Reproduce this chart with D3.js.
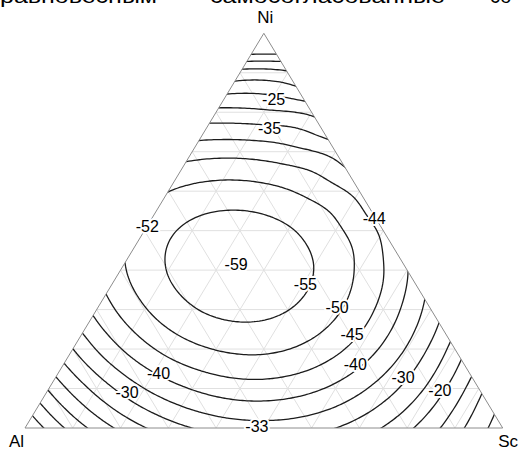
<!DOCTYPE html>
<html>
<head>
<meta charset="utf-8">
<title>Al-Ni-Sc ternary contours</title>
<script src="https://d3js.org/d3.v7.min.js"></script>
<style>
  body { margin: 0; background: #fff; }
  text { font-family: Arial, "Liberation Sans", sans-serif; }
</style>
</head>
<body>
<script>
// values at the 10 % composition nodes, one row per Ni fraction,
// each row runs from x(Sc) = 0 upward
var ni00  = [0.0, -11.9, -21.1, -27.7, -31.7, -33.0, -31.7, -27.7, -21.1, -11.9, 0.0];
var ni10  = [-15.6, -26.7, -35.0, -40.3, -42.8, -42.3, -38.9, -32.6, -23.5, -11.4];
var ni20  = [-29.9, -39.8, -46.6, -50.2, -50.9, -48.5, -43.0, -34.5, -22.9];
var ni30  = [-41.5, -49.6, -54.6, -56.4, -55.1, -50.8, -43.4, -32.9];
var ni40  = [-49.1, -55.2, -58.2, -58.2, -55.2, -49.2, -40.2];
var ni50  = [-52.0, -56.0, -57.2, -55.5, -51.0, -43.8];
var ni60  = [-49.9, -52.0, -51.5, -48.5, -43.1];
var ni70  = [-42.8, -43.3, -41.7, -38.0];
var ni80  = [-31.5, -30.9, -28.8];
var ni90  = [-16.7, -15.8];
var ni100 = [0.0];

var levels = [-55, -50, -45, -40, -35, -30, -25, -20, -15, -10, -5];
var vertexNames = ["Al", "Ni", "Sc"];

// value labels and the compositions they sit on
var labelText = ["-25", "-35", "-52", "-44", "-59", "-55", "-50", "-45", "-40", "-30", "-20", "-40", "-30", "-33"];
var labelNi   = [0.833, 0.760, 0.512, 0.530, 0.414, 0.364, 0.305, 0.237, 0.161, 0.127, 0.095, 0.139, 0.089, 0.003];
var labelSc   = [0.104, 0.132, 0.000, 0.466, 0.235, 0.405, 0.501, 0.566, 0.611, 0.728, 0.821, 0.210, 0.169, 0.484];

var headerWords = ["равновесным", "самосогласованные", "со"];

var rows = [ni00, ni10, ni20, ni30, ni40, ni50, ni60, ni70, ni80, ni90, ni100];

var width = 520, height = 450;

// ternary -> screen: horizontal position from x(Sc) + x(Ni)/2, vertical from x(Ni)
var x = d3.scaleLinear().domain([0, 1]).range([25, 502.7]);
var y = d3.scaleLinear().domain([0, 1]).range([428, 33.3]);
function pt(n, s) { return [x(s + n / 2), y(n)]; }

var svg = d3.select("body").append("svg")
    .attr("width", width)
    .attr("height", height);

var tri = [pt(0, 0), pt(0, 1), pt(1, 0)];

svg.append("clipPath").attr("id", "tri")
  .append("path")
    .attr("d", "M" + tri.join("L") + "Z");

// light composition grid
var grid = svg.append("g")
    .attr("stroke", "#e0e0e0")
    .attr("stroke-width", 1)
    .attr("fill", "none");
d3.range(1, 10).forEach(function(k) {
    var f = k / 10;
    [[pt(f, 0), pt(f, 1 - f)],
     [pt(0, f), pt(1 - f, f)],
     [pt(0, 1 - f), pt(1 - f, 0)]].forEach(function(seg) {
        grid.append("line")
            .attr("x1", seg[0][0]).attr("y1", seg[0][1])
            .attr("x2", seg[1][0]).attr("y2", seg[1][1]);
    });
});

// node lookup, stepping outside the triangle by quadratic extrapolation
var memo = new Map();
function node(i, j) {
    var key = i + "," + j;
    if (memo.has(key)) return memo.get(key);
    var v;
    if (i >= 0 && j >= 0 && i + j <= 10) v = rows[j][i];
    else if (i < 0) v = 3 * node(i + 1, j) - 3 * node(i + 2, j) + node(i + 3, j);
    else if (j < 0) v = 3 * node(i, j + 1) - 3 * node(i, j + 2) + node(i, j + 3);
    else v = 3 * node(i - 1, j - 1) - 3 * node(i - 2, j - 2) + node(i - 3, j - 3);
    memo.set(key, v);
    return v;
}

function cr(p0, p1, p2, p3, t) {
    return 0.5 * (2 * p1 + (p2 - p0) * t +
        (2 * p0 - 5 * p1 + 4 * p2 - p3) * t * t +
        (3 * p1 - p0 - 3 * p2 + p3) * t * t * t);
}

function field(s, n) {
    var u = s * 10, v = n * 10;
    var i = Math.floor(u), j = Math.floor(v);
    var t = u - i, w = v - j;
    var col = [];
    for (var dj = -1; dj <= 2; dj++) {
        col.push(cr(node(i - 1, j + dj), node(i, j + dj), node(i + 1, j + dj), node(i + 2, j + dj), t));
    }
    return cr(col[0], col[1], col[2], col[3], w);
}

var lo = -0.06, step = 0.005, N = 225;
var values = new Array(N * N);
for (var gy = 0; gy < N; gy++) {
    for (var gx = 0; gx < N; gx++) {
        values[gy * N + gx] = field(lo + gx * step, lo + gy * step);
    }
}

var contours = d3.contours()
    .size([N, N])
    .thresholds(levels)(values);

var toScreen = d3.geoTransform({
    point: function(X, Y) {
        var p = pt(lo + (Y - 0.5) * step, lo + (X - 0.5) * step);
        this.stream.point(p[0], p[1]);
    }
});
var path = d3.geoPath(toScreen);

svg.append("g")
    .attr("clip-path", "url(#tri)")
  .selectAll("path")
  .data(contours)
  .enter()
  .append("path")
    .attr("d", path)
    .attr("fill", "none")
    .attr("stroke", "#1c1c1c")
    .attr("stroke-width", 1.3);

// triangle outline
svg.append("path")
    .attr("d", "M" + tri.join("L") + "Z")
    .attr("fill", "none")
    .attr("stroke", "#8c8c8c")
    .attr("stroke-width", 1);

// contour value labels
svg.append("g")
  .selectAll("text")
  .data(labelText)
  .enter()
  .append("text")
    .attr("transform", function(d, i) {
        return "translate(" + pt(labelNi[i], labelSc[i]) + ")";
    })
    .attr("dy", "0.35em")
    .attr("text-anchor", "middle")
    .attr("font-size", 16)
    .attr("fill", "#000")
    .attr("stroke", "#fff")
    .attr("stroke-width", 4)
    .attr("stroke-linejoin", "round")
    .attr("paint-order", "stroke")
    .text(function(d) { return d; });

// corner names
var corners = [
    { p: pt(0, 0), dx: -16, dy: 19, anchor: "start" },
    { p: pt(1, 0), dx: 1.5, dy: -10, anchor: "middle" },
    { p: pt(0, 1), dx: -4.5, dy: 19, anchor: "start" }
];
svg.append("g")
  .selectAll("text")
  .data(vertexNames)
  .enter()
  .append("text")
    .attr("x", function(d, i) { return corners[i].p[0] + corners[i].dx; })
    .attr("y", function(d, i) { return corners[i].p[1] + corners[i].dy; })
    .attr("text-anchor", function(d, i) { return corners[i].anchor; })
    .attr("font-size", 17)
    .attr("fill", "#000")
    .text(function(d) { return d; });

// last line of the page text above the figure, cut by the crop
var headerX = [0, 210, 490], headerW = [157, 235, null];
svg.append("g")
  .selectAll("text")
  .data(headerWords)
  .enter()
  .append("text")
    .attr("x", function(d, i) { return headerX[i]; })
    .attr("y", 2.5)
    .attr("font-family", "'Liberation Serif', 'Times New Roman', serif")
    .attr("font-size", 20)
    .attr("fill", "#000")
    .each(function(d, i) {
        if (headerW[i]) d3.select(this).attr("textLength", headerW[i]).attr("lengthAdjust", "spacingAndGlyphs");
    })
    .text(function(d) { return d; });
</script>
</body>
</html>
